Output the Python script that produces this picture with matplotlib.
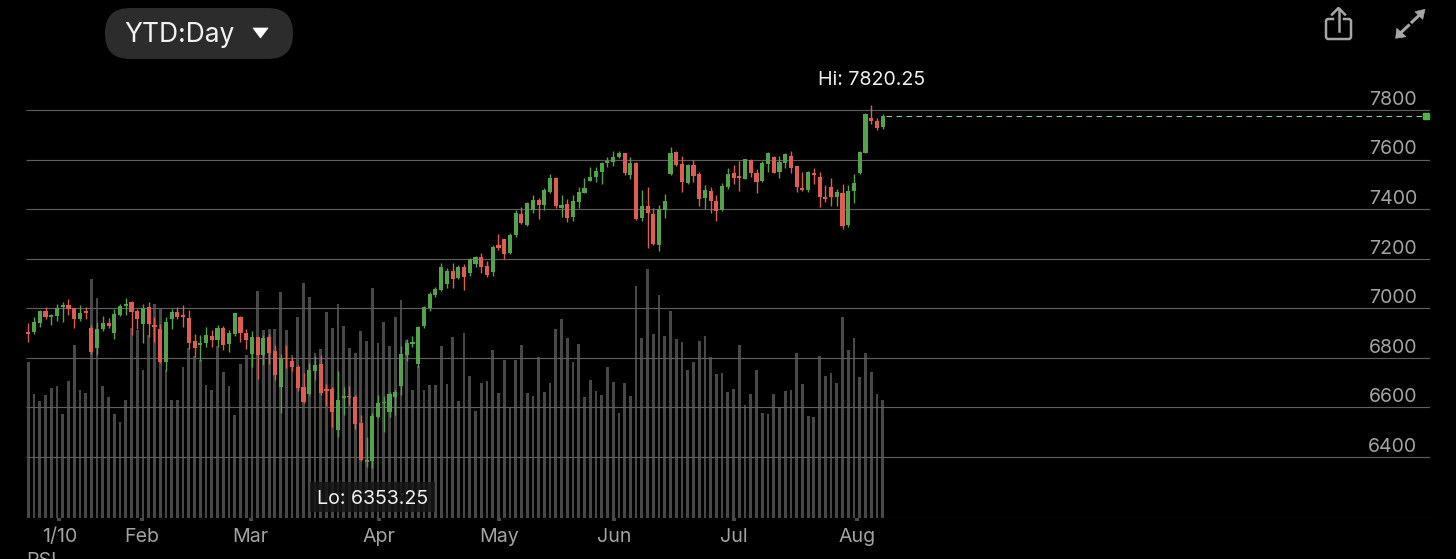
import matplotlib
matplotlib.use('Agg')
import matplotlib.pyplot as plt
from matplotlib.patches import FancyBboxPatch, Polygon, Rectangle

plt.rcParams['font.family'] = ['Inter', 'DejaVu Sans']

# Data
opens = [6904, 6904, 6938, 6989, 6965, 6968, 7003, 7012, 6999, 6956,
         6987, 6918, 6837, 6914, 6938, 6899, 6972, 7009, 7023, 6989,
         6935, 7005, 6931, 6915, 6783, 6954, 6983, 6972, 6961, 6865,
         6851, 6860, 6887, 6871, 6918, 6855, 6895, 6965, 6900, 6814,
         6881, 6810, 6881, 6825, 6682, 6799, 6786, 6763, 6682, 6652,
         6745, 6774, 6669, 6671, 6507, 6635, 6646, 6639, 6534, 6378,
         6380, 6558, 6615, 6581, 6642, 6685, 6810, 6855, 6774, 6927,
         6999, 7053, 7073, 7097, 7149, 7120, 7164, 7140, 7178, 7205,
         7170, 7147, 7254, 7277, 7221, 7295, 7378, 7335, 7396, 7436,
         7416, 7470, 7524, 7403, 7420, 7369, 7427, 7466, 7514, 7531,
         7551, 7587, 7590, 7609, 7625, 7537, 7587, 7362, 7412, 7378,
         7254, 7396, 7540, 7630, 7580, 7504, 7576, 7541, 7443, 7473,
         7432, 7396, 7490, 7544, 7533, 7521, 7598, 7544, 7512, 7582,
         7611, 7551, 7584, 7615, 7572, 7483, 7477, 7544, 7531, 7450,
         7490, 7447, 7463, 7335, 7474, 7547, 7628, 7769, 7755, 7733]
highs = [6938, 6962, 6992, 7003, 6976, 7016, 7023, 7035, 7001, 7013,
         7003, 6930, 6945, 6968, 6958, 6995, 7015, 7039, 7027, 6995,
         7015, 7024, 6965, 6934, 6965, 6995, 7005, 7011, 6992, 6895,
         6891, 6925, 6911, 6930, 6927, 6911, 6981, 6968, 6914, 6908,
         6884, 6890, 6895, 6851, 6814, 6851, 6801, 6770, 6739, 6779,
         6806, 6810, 6693, 6682, 6747, 6682, 6685, 6648, 6568, 6480,
         6577, 6648, 6644, 6662, 6669, 6846, 6873, 6887, 6927, 7008,
         7063, 7084, 7183, 7160, 7183, 7172, 7178, 7201, 7210, 7224,
         7191, 7253, 7299, 7280, 7302, 7396, 7409, 7428, 7455, 7444,
         7485, 7540, 7528, 7455, 7439, 7455, 7488, 7524, 7568, 7568,
         7590, 7609, 7633, 7634, 7626, 7609, 7590, 7477, 7490, 7403,
         7416, 7460, 7649, 7636, 7614, 7582, 7598, 7548, 7496, 7490,
         7456, 7504, 7564, 7578, 7594, 7603, 7601, 7563, 7594, 7630,
         7614, 7614, 7628, 7633, 7574, 7551, 7553, 7564, 7548, 7497,
         7524, 7482, 7501, 7496, 7540, 7636, 7786, 7820.25, 7769, 7785]
lows = [6864, 6895, 6925, 6954, 6933, 6947, 6945, 6972, 6919, 6947,
        6954, 6814, 6809, 6907, 6919, 6875, 6968, 6972, 6891, 6914,
        6860, 6881, 6864, 6779, 6747, 6917, 6954, 6925, 6836, 6803,
        6787, 6841, 6841, 6841, 6830, 6824, 6887, 6864, 6836, 6763,
        6712, 6770, 6774, 6709, 6577, 6756, 6747, 6666, 6617, 6648,
        6709, 6648, 6605, 6518, 6480, 6568, 6607, 6510, 6383, 6358,
        6353.25, 6554, 6500, 6561, 6568, 6648, 6787, 6844, 6763, 6918,
        6989, 7043, 7070, 7079, 7079, 7116, 7073, 7131, 7167, 7143,
        7127, 7129, 7234, 7197, 7218, 7288, 7339, 7331, 7385, 7358,
        7396, 7466, 7403, 7366, 7347, 7353, 7404, 7463, 7512, 7510,
        7501, 7571, 7574, 7605, 7537, 7521, 7355, 7353, 7244, 7253,
        7230, 7362, 7537, 7574, 7470, 7501, 7510, 7412, 7399, 7385,
        7353, 7393, 7479, 7501, 7474, 7520, 7528, 7463, 7509, 7548,
        7544, 7526, 7564, 7544, 7470, 7474, 7469, 7501, 7409, 7428,
        7412, 7412, 7320, 7326, 7425, 7541, 7628, 7743, 7719, 7723]
closes = [6896, 6943, 6988, 6962, 6969, 6999, 7012, 6995, 6956, 6981,
          6978, 6824, 6915, 6938, 6927, 6974, 7008, 7016, 6985, 6956,
          6999, 6935, 6925, 6783, 6945, 6983, 6962, 6962, 6857, 6840,
          6860, 6891, 6871, 6921, 6851, 6898, 6978, 6900, 6871, 6881,
          6810, 6877, 6817, 6729, 6797, 6794, 6763, 6675, 6622, 6749,
          6770, 6658, 6665, 6581, 6628, 6644, 6639, 6531, 6386, 6382,
          6564, 6615, 6620, 6651, 6662, 6814, 6857, 6864, 6925, 7003,
          7055, 7075, 7164, 7151, 7116, 7167, 7127, 7197, 7205, 7164,
          7133, 7248, 7241, 7218, 7295, 7385, 7345, 7423, 7436, 7416,
          7477, 7527, 7413, 7416, 7365, 7431, 7469, 7483, 7531, 7555,
          7587, 7591, 7609, 7628, 7544, 7584, 7358, 7412, 7385, 7257,
          7399, 7434, 7625, 7578, 7508, 7576, 7535, 7440, 7477, 7432,
          7393, 7493, 7541, 7527, 7524, 7601, 7544, 7510, 7587, 7628,
          7547, 7591, 7621, 7564, 7490, 7477, 7549, 7537, 7450, 7439,
          7450, 7469, 7331, 7474, 7504, 7630, 7782, 7755, 7726, 7776]
volumes = [468, 371, 351, 368, 390, 395, 312, 410, 520, 383,
           375, 718, 661, 397, 363, 312, 287, 355, 570, 565,
           445, 550, 642, 630, 445, 355, 355, 452, 510, 485,
           475, 398, 383, 515, 438, 397, 310, 463, 489, 535,
           680, 565, 567, 568, 677, 565, 490, 603, 705, 663,
           495, 507, 617, 570, 642, 577, 510, 495, 560, 530,
           690, 525, 587, 515, 602, 653, 535, 383, 455, 385,
           400, 400, 517, 402, 543, 352, 555, 427, 320, 405,
           410, 503, 375, 475, 333, 475, 520, 375, 365, 482,
           379, 405, 567, 597, 539, 469, 523, 364, 415, 382,
           369, 453, 409, 316, 405, 365, 695, 540, 747, 553,
           668, 545, 622, 537, 529, 443, 467, 532, 546, 482,
           433, 435, 378, 387, 518, 339, 371, 444, 316, 312,
           371, 333, 381, 385, 495, 403, 306, 304, 485, 426,
           435, 406, 603, 505, 539, 423, 495, 437, 371, 355]

price_levels = [7800, 7600, 7400, 7200, 7000, 6800, 6600, 6400]
month_pos = [5.4, 19.8, 38.8, 61.1, 82.1, 102.1, 123.1, 144.5]
month_labels = ['1/10', 'Feb', 'Mar', 'Apr', 'May', 'Jun', 'Jul', 'Aug']

W, H = 1456, 559
GREEN = '#52a34a'
RED = '#e05c50'
GRID = '#5e5e5e'
BAR = '#484848'
LABEL = '#a3a3a3'
FONT = 14.1

# pixel frame of the chart
left, right, top, bottom = 26, 1430, 96, 518
step = 5.734
x0 = 28.3
px_per_unit = 49.5 / 200


def price_at(y_px):
    return 7800 - (y_px - 110) / px_per_unit


fig = plt.figure(figsize=(W / 100, H / 100), dpi=100, facecolor='black')
rect = [left / W, 1 - bottom / H, (right - left) / W, (bottom - top) / H]

ax_vol = fig.add_axes(rect, zorder=1, facecolor='black')
ax = fig.add_axes(rect, zorder=2, facecolor='none')
xlim = ((left - x0) / step, (right - x0) / step)
for a in (ax, ax_vol):
    a.set_xlim(xlim)
    for s in a.spines.values():
        s.set_visible(False)
ax.set_ylim(price_at(bottom), price_at(top))
ax_vol.set_ylim(0, (bottom - top) * 3)
ax_vol.set_yticks([])
ax_vol.set_xticks([])

idx = list(range(len(closes)))
ax_vol.bar(idx, volumes, width=0.48, color=BAR, linewidth=0)

# grid and base line
ax.hlines(price_levels, xlim[0], xlim[1], color=GRID, linewidth=0.85, zorder=1)
ax.hlines(price_at(bottom - 0.5), xlim[0], xlim[1], color='#3c3c3c', linewidth=0.8, zorder=1)

# candles
colors = [GREEN if c >= o else RED for o, c in zip(opens, closes)]
ax.vlines(idx, lows, highs, color=colors, linewidth=1.0, zorder=3)
body_bottom = [min(o, c) for o, c in zip(opens, closes)]
body_height = [max(abs(c - o), 6) for o, c in zip(opens, closes)]
ax.bar(idx, body_height, bottom=body_bottom, width=0.72, color=colors, linewidth=0, zorder=4)

# last price line
last_x = (1426 - x0) / step
ax.plot([idx[-1] + 0.5, last_x], [closes[-1], closes[-1]], color='#8fce8a', linewidth=0.8,
        dashes=(5, 4), zorder=2)
ax.plot([last_x], [closes[-1]], marker='s', markersize=4.5, color='#4fb348', linewidth=0,
        clip_on=False, zorder=5)

# axis labels
ax.set_yticks([])
ax.set_xticks(month_pos)
ax.set_xticklabels(month_labels, fontsize=FONT, color=LABEL)
ax.tick_params(axis='x', length=2.4, width=3, color='#4a4a4a', pad=4.5)
for level in price_levels:
    ax.annotate(str(level), xy=(1417, level), xycoords=('figure pixels', 'data'),
                xytext=(0, 10), textcoords='offset pixels', ha='right', va='center',
                fontsize=FONT, color=LABEL)

# app chrome, in pixel coordinates
ui = fig.add_axes([0, 0, 1, 1], zorder=3, facecolor='none')
ui.set_xlim(0, W)
ui.set_ylim(H, 0)
ui.axis('off')

ui.add_patch(FancyBboxPatch((105 + 25, 8 + 25), 188 - 50, 51 - 50, boxstyle='round,pad=25',
                            facecolor='#2c2c2c', edgecolor='none'))
ui.text(124.5, 35.5, 'YTD:Day', color='#f2f2f2', fontsize=19, va='center', ha='left')
ui.add_patch(Polygon([(253, 28), (268, 28), (260.5, 38)], closed=True, facecolor='white',
                     edgecolor='white', linewidth=0.5, joinstyle='round'))

ui.text(871.5, 80, 'Hi: %.2f' % max(highs), color='#f0f0f0', fontsize=FONT, ha='center', va='center')
ui.add_patch(Rectangle((310, 482), 125, 30, facecolor='#161616', edgecolor='none', alpha=0.85))
ui.text(372.5, 498.5, 'Lo: %.2f' % min(lows), color='#f0f0f0', fontsize=FONT, ha='center', va='center')

ui.text(26, 561, 'RSI', color=LABEL, fontsize=FONT, ha='left', va='center', clip_on=False)

# share icon
ICON = '#a6a6a6'
ui.plot([1333, 1327.5, 1326, 1326, 1327.5, 1349.5, 1351, 1351, 1349.5, 1344],
        [19, 19, 20.5, 37.5, 39, 39, 37.5, 20.5, 19, 19], color=ICON, linewidth=1.8)
ui.plot([1338.5, 1338.5], [9, 31], color=ICON, linewidth=1.8)
ui.plot([1332, 1338.5, 1345], [14.5, 8, 14.5], color=ICON, linewidth=1.8)

# expand icon
ui.add_patch(Polygon([(1425, 9.3), (1415, 11.7), (1422.7, 19.3)], closed=True, facecolor=ICON, edgecolor=ICON, linewidth=0.5))
ui.add_patch(Polygon([(1395.7, 38.3), (1396.7, 28.3), (1406, 36.7)], closed=True, facecolor=ICON, edgecolor=ICON, linewidth=0.5))
ui.plot([1419, 1412], [15.5, 22], color=ICON, linewidth=2.2)
ui.plot([1408.5, 1401.5], [25.5, 32], color=ICON, linewidth=2.2)

fig.savefig('out.png', dpi=100, facecolor='black')
